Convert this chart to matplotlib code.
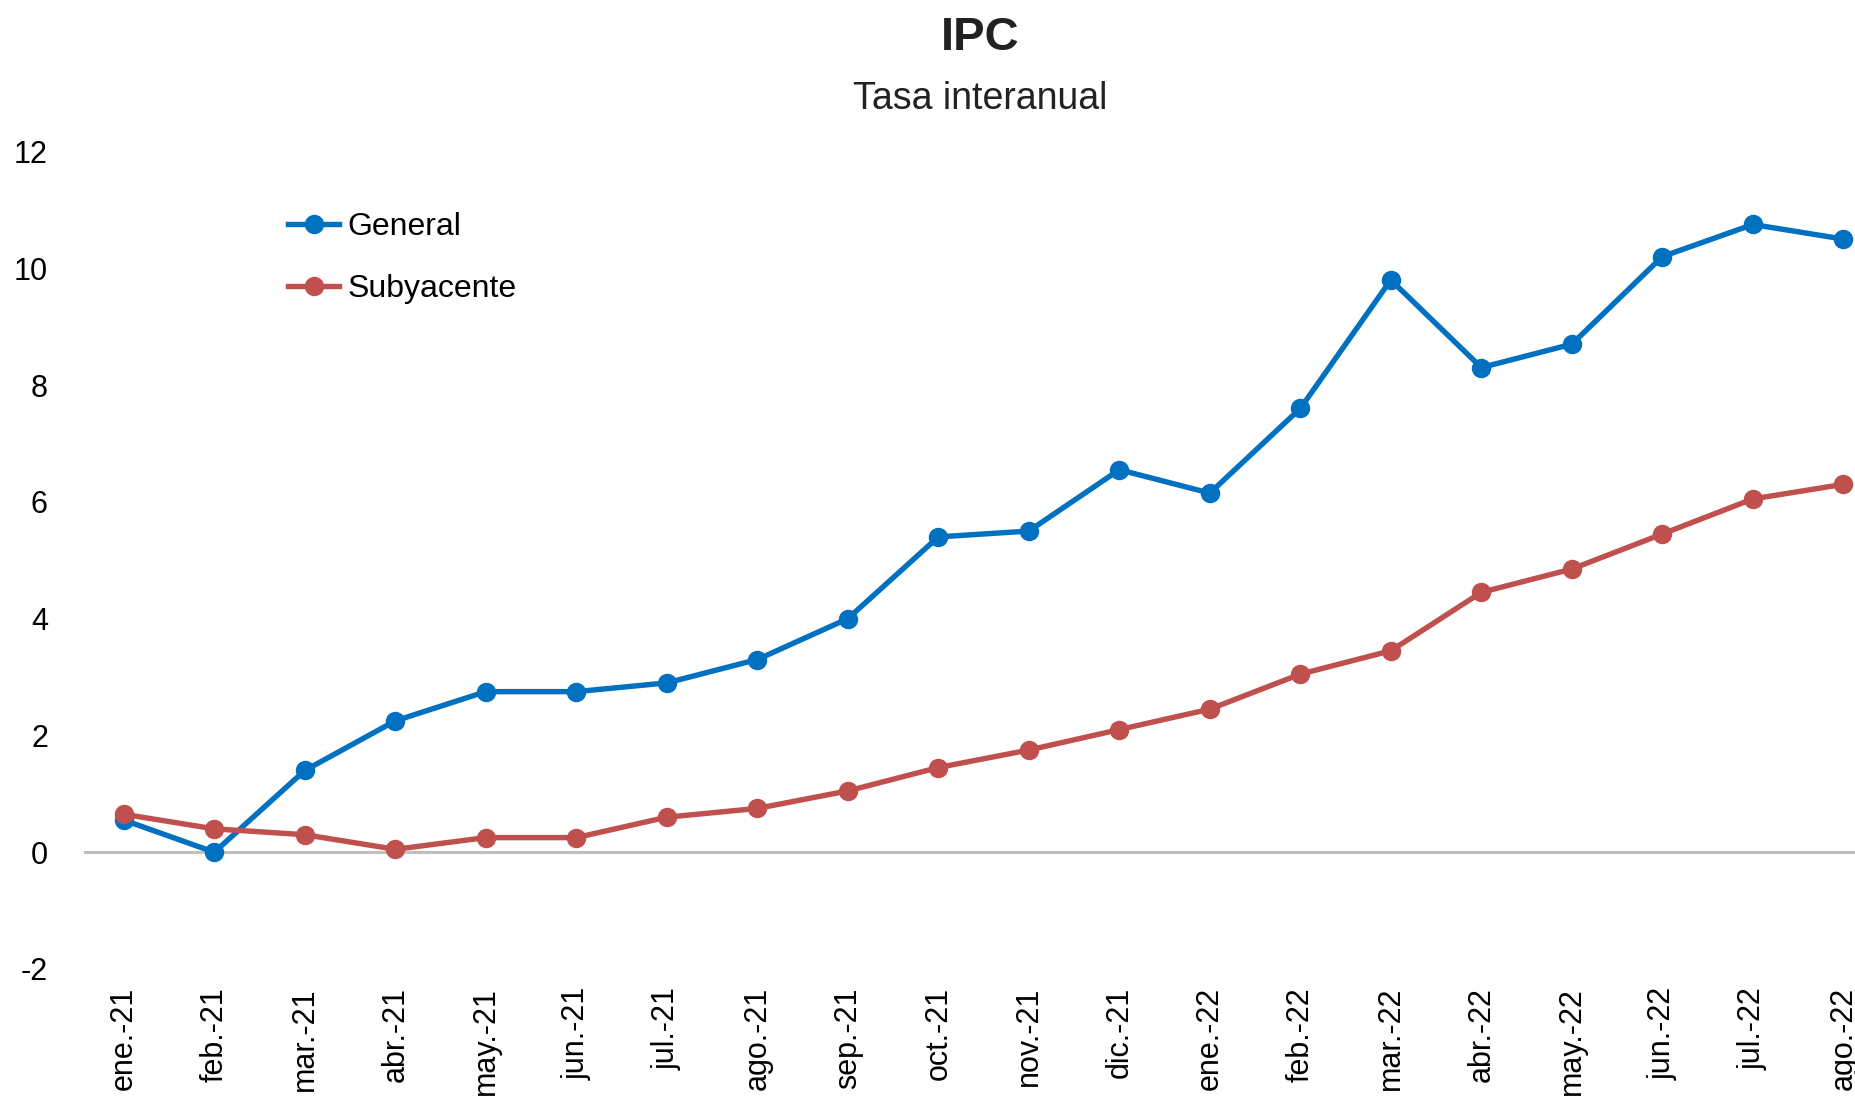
import matplotlib
matplotlib.use("Agg")
import matplotlib.pyplot as plt

months = ["ene.-21", "feb.-21", "mar.-21", "abr.-21", "may.-21", "jun.-21", "jul.-21",
          "ago.-21", "sep.-21", "oct.-21", "nov.-21", "dic.-21", "ene.-22", "feb.-22",
          "mar.-22", "abr.-22", "may.-22", "jun.-22", "jul.-22", "ago.-22"]
general = [0.55, 0.0, 1.4, 2.25, 2.75, 2.75, 2.9, 3.3, 4.0, 5.4, 5.5, 6.55, 6.15, 7.6,
           9.8, 8.3, 8.7, 10.2, 10.75, 10.5]
subyacente = [0.65, 0.4, 0.3, 0.05, 0.25, 0.25, 0.6, 0.75, 1.05, 1.45, 1.75, 2.1, 2.45,
              3.05, 3.45, 4.45, 4.85, 5.45, 6.05, 6.3]
yticks = [-2, 0, 2, 4, 6, 8, 10, 12]

plt.rcParams['font.family'] = ['Liberation Sans', 'DejaVu Sans']

fig = plt.figure(figsize=(18.56, 10.96), dpi=100)
ax = fig.add_axes([84/1856, 1-969/1096, 1-84/1856, (969-151.5)/1096])

x = list(range(len(months)))
ax.axhline(0, color='#BFBFBF', lw=2.2, zorder=1)
ax.plot(x, general, color='#0070C0', lw=3.9, marker='o', ms=13, label='General', zorder=3)
ax.plot(x, subyacente, color='#C0504D', lw=3.9, marker='o', ms=13, label='Subyacente', zorder=3)

ax.set_xlim(-0.44, 19.14)
ax.set_ylim(-2, 12)
ax.set_yticks(yticks)
ax.set_yticklabels([str(v) for v in yticks])
ax.set_xticks(x)
ax.set_xticklabels(months, rotation=90, va='top', ha='center')
ax.tick_params(axis='both', length=0, labelsize=22)
ax.tick_params(axis='y', pad=26)
ax.tick_params(axis='x', pad=13)
for s in ax.spines.values():
    s.set_visible(False)
ax.patch.set_alpha(0)

fig.text(980/1856, 1-38/1096, "IPC", ha='center', va='center', fontsize=34, fontweight='bold', color='#222222')
fig.text(980/1856, 1-99/1096, "Tasa interanual", ha='center', va='center', fontsize=27, color='#222222')

leg = ax.legend(loc='upper left', bbox_to_anchor=(288/1856, 1-212/1096), bbox_transform=fig.transFigure,
                frameon=False, fontsize=23, handlelength=1.6, handletextpad=0.25, labelspacing=1.0,
                borderpad=0, borderaxespad=0)

fig.savefig("out.png", dpi=100)
